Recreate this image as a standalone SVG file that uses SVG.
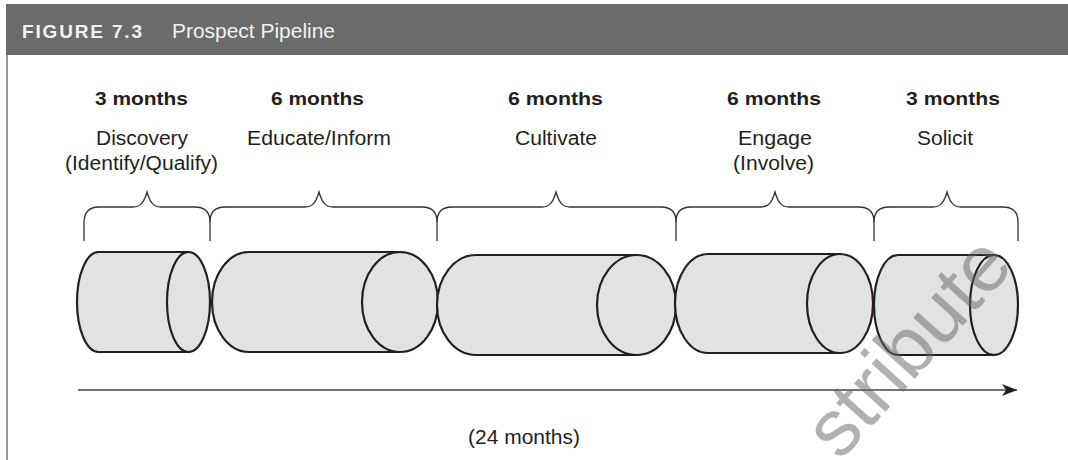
<svg xmlns="http://www.w3.org/2000/svg" width="1068" height="460" viewBox="0 0 1068 460">
<style>
.hdr{fill:#6b6b6b}
.t{font-family:"Liberation Sans",Arial,sans-serif;fill:#231f20;text-anchor:middle}
.b{font-weight:bold;font-size:19px}
.r{font-size:19.5px}
.brace{fill:none;stroke:#333;stroke-width:1.3}
.cyl{fill:#e1e2e4;stroke:#231f20;stroke-width:2.2}
.wm{font-family:"Liberation Sans",Arial,sans-serif;font-size:80px;fill:#666;opacity:0.5}
</style>
<defs>
<marker id="ah" markerWidth="16" markerHeight="12" refX="15" refY="6" orient="auto" markerUnits="userSpaceOnUse">
<path d="M0,0 L15,6 L0,12 L4,6 Z" fill="#231f20"/>
</marker>
</defs>
<rect width="1068" height="460" fill="#fff"/>
<g id="header">
<rect class="hdr" x="6" y="4" width="1062" height="51"/>
<line x1="7" y1="55" x2="7" y2="460" stroke="#9a9a9a" stroke-width="2"/>
<text x="22" y="38" font-family="'Liberation Sans',Arial,sans-serif" font-weight="bold" font-size="19" fill="#f2f2f2" textLength="120" lengthAdjust="spacing">FIGURE 7.3</text>
<text x="172" y="38" font-family="'Liberation Sans',Arial,sans-serif" font-size="21" fill="#f2f2f2" textLength="163" lengthAdjust="spacingAndGlyphs">Prospect Pipeline</text>
</g>
<g id="stage-discovery">
<text class="t b" x="141.5" y="105" textLength="93" lengthAdjust="spacingAndGlyphs">3 months</text>
<text class="t r" x="142" y="145" textLength="92" lengthAdjust="spacingAndGlyphs">Discovery</text>
<text class="t r" x="141.5" y="170" textLength="153" lengthAdjust="spacingAndGlyphs">(Identify/Qualify)</text>
<path class="brace" d="M84,241 V223 Q84,207 99,207 H133 C140,207 144,203 147,192 C150,203 154,207 161,207 H195 Q210,207 210,222 V241"/>
<path class="cyl" d="M98.5,252 H188.5 V352 H98.5 A21.5,50 0 0 1 98.5,252 Z"/>
<ellipse class="cyl" cx="188.5" cy="302" rx="21.5" ry="50"/>
</g>
<g id="stage-educate">
<text class="t b" x="317.5" y="105" textLength="93" lengthAdjust="spacingAndGlyphs">6 months</text>
<text class="t r" x="319" y="145" textLength="144" lengthAdjust="spacingAndGlyphs">Educate/Inform</text>
<path class="brace" d="M210,222 Q210,207 225,207 H305 C312,207 316,203 319,192 C322,203 326,207 333,207 H422 Q437,207 437,222 V241"/>
<path class="cyl" d="M249,252 H400 V352 H249 A37,50 0 0 1 249,252 Z"/>
<ellipse class="cyl" cx="400" cy="302" rx="38" ry="50"/>
</g>
<g id="stage-cultivate">
<text class="t b" x="555.5" y="105" textLength="95" lengthAdjust="spacingAndGlyphs">6 months</text>
<text class="t r" x="556" y="145" textLength="82" lengthAdjust="spacingAndGlyphs">Cultivate</text>
<path class="brace" d="M437,222 Q437,207 452,207 H542 C549,207 553,203 556,192 C559,203 563,207 570,207 H661 Q676,207 676,222 V241"/>
<path class="cyl" d="M476,255 H636.5 V355 H476 A39,50 0 0 1 476,255 Z"/>
<ellipse class="cyl" cx="636.5" cy="305" rx="39.5" ry="50"/>
</g>
<g id="stage-engage">
<text class="t b" x="774" y="105" textLength="94" lengthAdjust="spacingAndGlyphs">6 months</text>
<text class="t r" x="775" y="145" textLength="74" lengthAdjust="spacingAndGlyphs">Engage</text>
<text class="t r" x="773.5" y="170" textLength="81" lengthAdjust="spacingAndGlyphs">(Involve)</text>
<path class="brace" d="M676,222 Q676,207 691,207 H761 C768,207 772,203 775,192 C778,203 782,207 789,207 H859 Q874,207 874,222 V241"/>
<path class="cyl" d="M708,254 H840 V353 H708 A33,49.5 0 0 1 708,254 Z"/>
<ellipse class="cyl" cx="840" cy="303.5" rx="33" ry="49.5"/>
</g>
<g id="stage-solicit">
<text class="t b" x="953" y="105" textLength="94" lengthAdjust="spacingAndGlyphs">3 months</text>
<text class="t r" x="945" y="145" textLength="56" lengthAdjust="spacingAndGlyphs">Solicit</text>
<path class="brace" d="M874,222 Q874,207 889,207 H933 C940,207 944,203 947,192 C950,203 954,207 961,207 H1003 Q1018,207 1018,222 V241"/>
<path class="cyl" d="M898,255 H994 V355 H898 A24,50 0 0 1 898,255 Z"/>
<ellipse class="cyl" cx="994" cy="305" rx="24" ry="50"/>
</g>
<g id="connectors">
<line x1="78" y1="390" x2="1017" y2="390" stroke="#444" stroke-width="1.6" marker-end="url(#ah)"/>
</g>
<text class="t r" x="524" y="444" textLength="112" lengthAdjust="spacingAndGlyphs">(24 months)</text>
<text class="wm" x="840" y="462" transform="rotate(-48 840 462)">stribute</text>
</svg>
